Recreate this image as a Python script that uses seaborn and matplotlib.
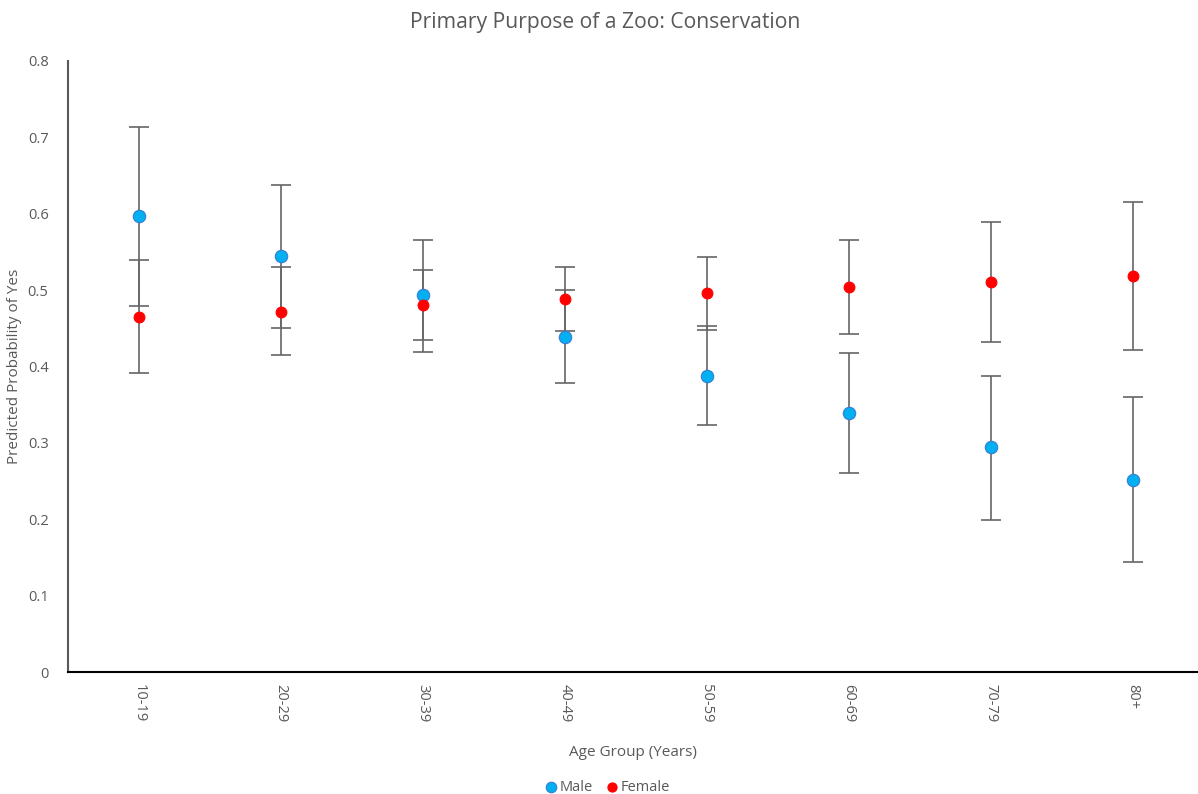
"""
Predicted probability of 'conservation' as the primary purpose of a zoo,
by age group and gender, with confidence intervals.
"""

import numpy as np
import pandas as pd
import matplotlib.pyplot as plt
import seaborn as sns

age_groups = ['10-19', '20-29', '30-39', '40-49', '50-59', '60-69', '70-79', '80+']

male_prob = [0.597, 0.545, 0.493, 0.439, 0.388, 0.339, 0.294, 0.252]
male_low = [0.479, 0.450, 0.419, 0.378, 0.324, 0.261, 0.199, 0.144]
male_high = [0.714, 0.638, 0.565, 0.500, 0.453, 0.418, 0.388, 0.360]

female_prob = [0.465, 0.472, 0.480, 0.488, 0.496, 0.504, 0.511, 0.519]
female_low = [0.391, 0.415, 0.435, 0.447, 0.448, 0.442, 0.432, 0.422]
female_high = [0.539, 0.530, 0.526, 0.530, 0.544, 0.565, 0.589, 0.616]

GREY = '#595959'
colors = {'Male': '#00B0F0', 'Female': '#FF0000'}
edges = {'Male': '#3A7BD5', 'Female': '#FF0000'}
sizes = {'Male': 80, 'Female': 60}

sns.set_style('white')
plt.rcParams['font.family'] = ['Open Sans', 'DejaVu Sans']

df = pd.concat([
    pd.DataFrame({'age': age_groups, 'prob': male_prob, 'low': male_low,
                  'high': male_high, 'gender': 'Male'}),
    pd.DataFrame({'age': age_groups, 'prob': female_prob, 'low': female_low,
                  'high': female_high, 'gender': 'Female'}),
])

fig = plt.figure(figsize=(11.98, 7.94), dpi=100)
ax = fig.add_axes([68 / 1198, 1 - 672 / 794, 1 - 68 / 1198, (672 - 61) / 794])

# error bars first so the points sit on top
pos = np.arange(len(age_groups))
for g in ['Male', 'Female']:
    sub = df[df['gender'] == g]
    yerr = [sub['prob'] - sub['low'], sub['high'] - sub['prob']]
    ax.errorbar(pos, sub['prob'], yerr=yerr, fmt='none', ecolor='#666666',
                elinewidth=1.2, capsize=7, capthick=1.2, zorder=1)

for g in ['Male', 'Female']:
    sub = df[df['gender'] == g]
    sns.scatterplot(data=sub, x='age', y='prob', color=colors[g],
                    edgecolor=edges[g], linewidth=0.8, s=sizes[g],
                    label=g, ax=ax, zorder=3)

ax.set_xlim(-0.5, 7.46)
ax.set_ylim(0, 0.8)
ax.set_yticks(np.arange(0, 0.81, 0.1))
ax.set_yticklabels(['0'] + [f'{v:.1f}' for v in np.arange(0.1, 0.81, 0.1)])

for side in ['top', 'right']:
    ax.spines[side].set_visible(False)
ax.spines['left'].set_color(GREY)
ax.spines['left'].set_linewidth(1.5)
ax.spines['bottom'].set_color('black')
ax.spines['bottom'].set_linewidth(1.5)

ax.tick_params(axis='both', length=0, colors=GREY, labelsize=10.5)
ax.tick_params(axis='x', rotation=-90, pad=9)
ax.tick_params(axis='y', pad=14)

ax.set_xlabel('Age Group (Years)', color=GREY, fontsize=11, labelpad=16)
ax.set_ylabel('Predicted Probability of Yes', color=GREY, fontsize=11, labelpad=4)
ax.set_title('Primary Purpose of a Zoo: Conservation', color=GREY,
             fontsize=15.2, pad=24, x=(605 - 68) / 1130)

leg = ax.legend(loc='upper center', bbox_to_anchor=((608 - 68) / 1130, -0.155),
                ncol=2, frameon=False, handlelength=0.6, handletextpad=0.3,
                columnspacing=1.0, fontsize=10.5, markerscale=0.85)
for t in leg.get_texts():
    t.set_color(GREY)

fig.savefig('out.png', dpi=100)
